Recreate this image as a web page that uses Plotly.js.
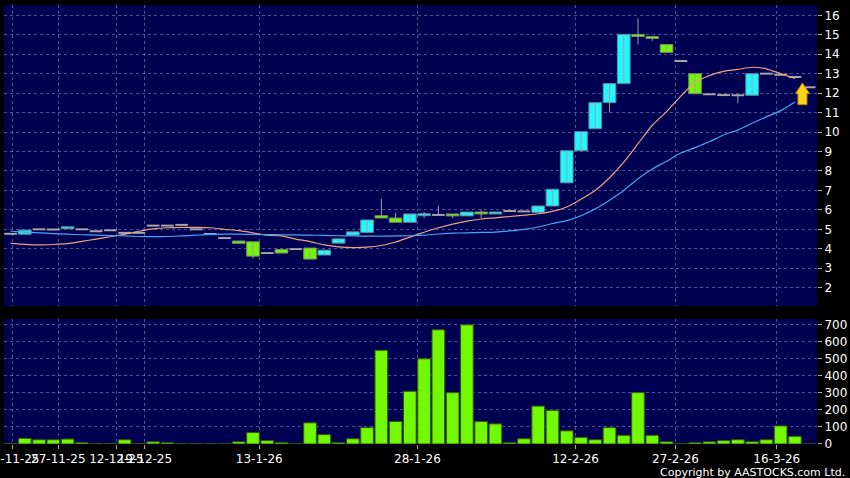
<!DOCTYPE html>
<html><head><meta charset="utf-8">
<script src="https://cdn.plot.ly/plotly-3.0.1.min.js"></script>
<style>html,body{margin:0;padding:0;background:#000;}#chart{width:850px;height:478px;}</style>
</head><body><div id="chart"></div>
<script>
// Daily OHLC (57 sessions, oldest first)
const openP  = [4.77,4.75,5.00,4.99,5.03,5.00,4.90,4.95,4.82,4.82,5.19,5.19,5.23,5.00,4.76,4.55,4.40,4.36,3.78,3.97,
                3.98,4.04,3.68,4.29,4.70,4.84,5.70,5.58,5.36,5.70,5.74,5.79,5.69,5.89,5.79,5.94,5.92,5.87,6.20,7.39,
                9.04,10.17,11.51,12.49,15.02,14.91,14.50,13.65,13.00,11.94,11.90,11.89,11.89,13.00,12.94,12.83,12.30];
const highP  = [4.77,4.96,5.00,4.99,5.13,5.00,4.90,4.95,4.82,4.82,5.19,5.19,5.23,5.00,4.76,4.55,4.40,4.36,3.78,3.97,
                3.98,4.04,3.93,4.51,4.87,5.48,6.58,5.84,5.79,5.89,6.22,5.79,5.89,6.00,5.89,5.94,5.92,6.20,7.06,9.04,
                10.02,11.51,12.49,15.02,15.84,14.91,14.50,13.65,13.00,11.94,11.90,11.89,13.00,13.00,12.94,12.83,12.30];
const lowP   = [4.77,4.75,5.00,4.99,5.03,5.00,4.90,4.95,4.82,4.82,5.19,5.19,5.23,5.00,4.76,4.55,4.28,3.50,3.78,3.78,
                3.98,3.47,3.68,4.29,4.70,4.84,5.58,5.36,5.36,5.58,5.74,5.58,5.69,5.58,5.79,5.94,5.92,5.87,6.20,7.39,
                9.04,10.17,11.00,12.49,14.50,14.69,14.09,13.65,11.97,11.94,11.90,11.49,11.89,13.00,12.94,12.83,12.30];
const closeP = [4.77,4.96,5.00,4.99,5.13,5.00,4.90,4.95,4.82,4.82,5.19,5.19,5.23,5.00,4.76,4.55,4.28,3.62,3.78,3.78,
                3.98,3.47,3.93,4.51,4.87,5.48,5.58,5.36,5.79,5.80,5.74,5.69,5.89,5.79,5.89,5.94,5.92,6.20,7.06,9.04,
                10.02,11.51,12.49,15.02,14.91,14.81,14.09,13.65,11.97,11.94,11.90,11.89,13.00,13.00,12.94,12.83,12.30];
const volume = [2,33,25,25,29,8,2,2,25,2,13,8,1,1,1,1,13,67,20,8,
                3,124,55,8,31,96,549,132,309,499,669,301,698,132,118,8,31,222,197,77,
                39,25,96,51,301,51,13,3,8,13,20,25,13,25,106,45,0];
// Moving averages
const maShort = [4.28,4.23,4.20,4.22,4.26,4.38,4.50,4.62,4.75,4.90,5.02,5.08,5.10,5.10,5.08,5.00,4.93,4.82,4.70,4.66,
                 4.50,4.37,4.20,4.10,4.06,4.08,4.17,4.35,4.60,4.85,5.08,5.27,5.42,5.53,5.59,5.66,5.73,5.80,5.92,6.15,
                 6.55,7.00,7.65,8.45,9.40,10.35,11.05,11.85,12.55,12.90,13.12,13.22,13.33,13.25,13.00,12.75];
const maLong  = [4.90,4.86,4.82,4.78,4.75,4.72,4.70,4.68,4.66,4.63,4.62,4.63,4.66,4.70,4.74,4.75,4.75,4.74,4.73,4.72,
                 4.71,4.70,4.69,4.67,4.66,4.65,4.65,4.66,4.67,4.70,4.76,4.80,4.82,4.84,4.86,4.92,5.00,5.12,5.30,5.45,
                 5.70,6.05,6.50,7.00,7.60,8.10,8.50,8.92,9.20,9.50,9.85,10.10,10.45,10.78,11.10,11.55];
const tickPos    = [0.12,3.35,7.42,9.42,17.44,28.53,39.62,46.63,53.73];
const tickLabels = ['20-11-25','27-11-25','12-12-25','19-12-25','13-1-26','28-1-26','12-2-26','27-2-26','16-3-26'];
const priceTicks = [2,3,4,5,6,7,8,9,10,11,12,13,14,15,16];
const volTicks   = [0,100,200,300,400,500,600,700];
const arrowPoint = {x: 55.53, y: 11.41};

const idx = openP.map((_, i) => i);
const CYAN = '#22f6ff', GREEN = '#72f800', FLAT = '#a8a8a8';
const FLAT_H = 0.1;

const bodyBase = [], bodyH = [], bodyCol = [], bodyLine = [], bodyLW = [];
idx.forEach(i => {
  const o = openP[i], c = closeP[i];
  if (c > o) { bodyBase.push(o); bodyH.push(c - o); bodyCol.push(CYAN); bodyLine.push('#5a8c98'); bodyLW.push(1); }
  else if (c < o) { bodyBase.push(c); bodyH.push(o - c); bodyCol.push(GREEN); bodyLine.push('#6f8a6a'); bodyLW.push(1); }
  else { bodyBase.push(o - FLAT_H / 2); bodyH.push(FLAT_H); bodyCol.push(FLAT); bodyLine.push(FLAT); bodyLW.push(0); }
});
const wx = [], wy = [];
idx.forEach(i => { wx.push(i, i, null); wy.push(lowP[i], highP[i], null); });

const gridCol = 'rgba(150,150,200,0.55)';
const tickFont = {family: 'DejaVu Sans', size: 12, color: '#ffffff'};

const traces = [
  {type: 'scatter', mode: 'lines', x: wx, y: wy, xaxis: 'x', yaxis: 'y',
   line: {color: '#a0a0a0', width: 1}, hoverinfo: 'skip'},
  {type: 'bar', x: idx, y: bodyH, base: bodyBase, width: 0.89, xaxis: 'x', yaxis: 'y',
   marker: {color: bodyCol, line: {color: bodyLine, width: bodyLW}}},
  {type: 'scatter', mode: 'lines', x: idx.slice(0, maShort.length), y: maShort, xaxis: 'x', yaxis: 'y',
   line: {color: '#f0a27e', width: 1.2, shape: 'spline', smoothing: 0.6}},
  {type: 'scatter', mode: 'lines', x: idx.slice(0, maLong.length), y: maLong, xaxis: 'x', yaxis: 'y',
   line: {color: '#44a6ee', width: 1.2, shape: 'spline', smoothing: 0.6}},
  {type: 'bar', x: idx, y: volume, width: 0.89, xaxis: 'x', yaxis: 'y2',
   marker: {color: GREEN, line: {color: '#2f5a0c', width: 1}}}
];

const layout = {
  width: 850, height: 478,
  margin: {l: 4, r: 33, t: 5, b: 34},
  paper_bgcolor: '#000000', plot_bgcolor: '#000052',
  showlegend: false, hovermode: false, barmode: 'overlay', bargap: 0,
  xaxis: {range: [-0.46, 56.55], anchor: 'y2', tickmode: 'array', tickvals: tickPos, ticktext: tickLabels,
          tickangle: 0, ticklabeloverflow: 'allow', ticks: 'outside', ticklen: 4, tickcolor: '#aaaaaa',
          tickfont: tickFont, showgrid: true, gridcolor: gridCol, griddash: '3px,3px', gridwidth: 1,
          zeroline: false, showline: false},
  yaxis: {domain: [0.3144, 1], range: [1.06, 16.53], side: 'right', anchor: 'x', tickmode: 'array',
          tickvals: priceTicks, ticks: 'outside', ticklen: 4, tickcolor: '#aaaaaa', tickfont: tickFont,
          showgrid: true, gridcolor: gridCol, griddash: '3px,3px', zeroline: false, showline: false},
  yaxis2: {domain: [0, 0.2847], range: [0, 732], side: 'right', anchor: 'x', tickmode: 'array',
          tickvals: volTicks, ticks: 'outside', ticklen: 4, tickcolor: '#aaaaaa', tickfont: tickFont,
          showgrid: true, gridcolor: gridCol, griddash: '3px,3px', zeroline: false, showline: false},
  shapes: [{type: 'path', xref: 'x', yref: 'y', xsizemode: 'pixel', ysizemode: 'pixel',
            xanchor: arrowPoint.x, yanchor: arrowPoint.y,
            path: 'M-4.5,0 L4.5,0 L4.5,11 L7,11 L0,21.5 L-7,11 L-4.5,11 Z',
            fillcolor: '#ffd21a', line: {color: '#c98a00', width: 1}}],
  annotations: [{text: 'Copyright by AASTOCKS.com Ltd.', xref: 'paper', yref: 'paper',
                 x: 1.037, y: -0.066, xanchor: 'right', yanchor: 'middle', showarrow: false,
                 font: {family: 'DejaVu Sans', size: 11, color: '#ffffff'}}]
};

Plotly.newPlot('chart', traces, layout, {staticPlot: true, displayModeBar: false});
</script></body></html>
